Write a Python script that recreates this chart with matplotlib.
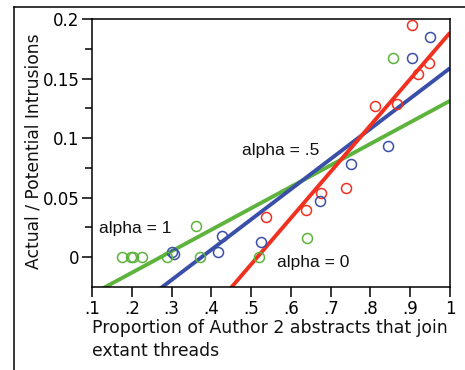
import matplotlib
matplotlib.use("Agg")
import matplotlib.pyplot as plt
import numpy as np
from matplotlib.lines import Line2D

# ---- data ----
red_x = [0.904, 0.948, 0.920, 0.811, 0.866, 0.739, 0.676, 0.638, 0.537]
red_y = [0.195, 0.163, 0.1535, 0.127, 0.1285, 0.058, 0.054, 0.040, 0.034]

blue_x = [0.950, 0.904, 0.843, 0.750, 0.672, 0.526, 0.428, 0.417, 0.300, 0.305]
blue_y = [0.185, 0.167, 0.093, 0.078, 0.047, 0.013, 0.018, 0.004, 0.004, 0.0025]

green_x = [0.856, 0.641, 0.521, 0.361, 0.372, 0.289, 0.225, 0.202, 0.198, 0.176]
green_y = [0.167, 0.0165, 0.0, 0.0265, 0.0, 0.0, 0.0, 0.0, 0.0, 0.0]

# fitted lines: slope, intercept
red_fit = [0.389, -0.2005]
blue_fit = [0.254, -0.0953]
green_fit = [0.1804, -0.0491]

labels = ["alpha = 0", "alpha = .5", "alpha = 1"]
label_pos = [(0.566, -0.0045), (0.476, 0.0899), (0.118, 0.0241)]

xticks = [0.1, 0.2, 0.3, 0.4, 0.5, 0.6, 0.7, 0.8, 0.9, 1.0]
xticklabels = [".1", ".2", ".3", ".4", ".5", ".6", ".7", ".8", ".9", "1"]
yticks = [0, 0.05, 0.1, 0.15, 0.2]
yticklabels = ["0", "0.05", "0.1", "0.15", "0.2"]

RED = "#F2301F"
BLUE = "#3A4FA8"
GREEN = "#5DB33C"

fig = plt.figure(figsize=(4.65, 3.7), dpi=100)
ax = fig.add_axes([92/465, 1 - 287/370, (450-92)/465, (287-19)/370])

xs = np.array([0.1, 1.0])
for fit, col in [(green_fit, GREEN), (blue_fit, BLUE), (red_fit, RED)]:
    ax.plot(xs, fit[0]*xs + fit[1], color=col, lw=2.8, solid_capstyle='butt', zorder=2)

for xv, yv, col in [(red_x, red_y, RED), (blue_x, blue_y, BLUE), (green_x, green_y, GREEN)]:
    ax.plot(xv, yv, 'o', ls='none', mfc='none', mec=col, mew=1.1, ms=7.2, zorder=3)

for lab, (lx, ly) in zip(labels, label_pos):
    ax.text(lx, ly, lab, fontsize=12.5, family="Liberation Sans", ha='left', va='center', color='#111111')

ax.set_xlim(0.1, 1.0)
ax.set_ylim(-0.025, 0.2)
ax.set_xticks(xticks)
ax.set_xticklabels(xticklabels)
ax.set_yticks(yticks)
ax.set_yticklabels(yticklabels)
ax.set_yticks([0.025, 0.075, 0.125, 0.175], minor=True)
ax.tick_params(axis='both', which='major', direction='out', length=7, width=1.1, labelsize=12, pad=2)
ax.tick_params(axis='y', which='minor', direction='out', length=5, width=1.1)
for s in ax.spines.values():
    s.set_linewidth(1.1)
for lab in ax.get_xticklabels() + ax.get_yticklabels():
    lab.set_family("DejaVu Sans")

fig.text(92/465, 1 - 328/370, "Proportion of Author 2 abstracts that join", fontsize=12.4,
         family="DejaVu Sans", ha='left', va='center', color='#111111')
fig.text(92/465, 1 - 351/370, "extant threads", fontsize=12.4,
         family="DejaVu Sans", ha='left', va='center', color='#111111')
fig.text(33/465, 1 - 151/370, "Actual / Potential Intrusions", fontsize=12.3,
         family="DejaVu Sans", ha='center', va='center', rotation=90, color='#111111')

# outer frame (partially cropped)
fig.add_artist(Line2D([13.5/465, 1.0], [1 - 6.5/370, 1 - 6.5/370], color='black', lw=1.1, transform=fig.transFigure))
fig.add_artist(Line2D([13.5/465, 13.5/465], [0.0, 1 - 6.5/370], color='black', lw=1.1, transform=fig.transFigure))

fig.savefig("out.png", dpi=100)
